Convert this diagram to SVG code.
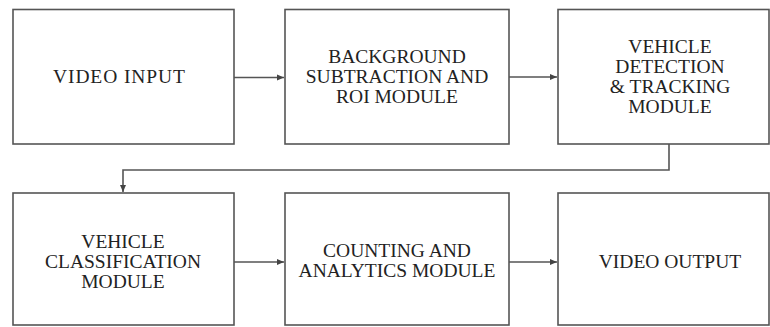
<svg xmlns="http://www.w3.org/2000/svg" width="770" height="327" viewBox="0 0 770 327">
<style>
.box{fill:#fff;stroke:#555;stroke-width:1.6}
.t{font-family:"Liberation Serif","Times New Roman",serif;font-size:19.5px;fill:#222;text-anchor:middle}
.c{fill:none;stroke:#555;stroke-width:1.6}
</style>
<defs>
<marker id="ah" markerWidth="8" markerHeight="8" refX="7" refY="4" orient="auto" markerUnits="userSpaceOnUse">
<path d="M0,1 L7,4 L0,7 Z" fill="#444"/>
</marker>
</defs>
<rect width="770" height="327" fill="#fff"/>
<g id="video-input"><rect class="box" x="13" y="9.5" width="221" height="134.5"/><text class="t" x="119" y="83" textLength="132" lengthAdjust="spacing">VIDEO INPUT</text></g>
<g id="background-subtraction"><rect class="box" x="285" y="9.5" width="224" height="134.5"/><text class="t" x="397" y="63">BACKGROUND</text><text class="t" x="397" y="83">SUBTRACTION AND</text><text class="t" x="397" y="103">ROI MODULE</text></g>
<g id="vehicle-detection"><rect class="box" x="558" y="9.5" width="211" height="134.5"/><text class="t" x="670" y="53">VEHICLE</text><text class="t" x="670" y="73">DETECTION</text><text class="t" x="670" y="93">&amp; TRACKING</text><text class="t" x="670" y="113">MODULE</text></g>
<g id="vehicle-classification"><rect class="box" x="13" y="193" width="221" height="132"/><text class="t" x="123" y="248">VEHICLE</text><text class="t" x="123" y="268">CLASSIFICATION</text><text class="t" x="123" y="288">MODULE</text></g>
<g id="counting-analytics"><rect class="box" x="285" y="193" width="224" height="132"/><text class="t" x="397" y="257">COUNTING AND</text><text class="t" x="397" y="277">ANALYTICS MODULE</text></g>
<g id="video-output"><rect class="box" x="558" y="193" width="211" height="132"/><text class="t" x="670" y="268">VIDEO OUTPUT</text></g>
<g id="connectors">
<line class="c" x1="234" y1="77.5" x2="284" y2="77.5" marker-end="url(#ah)"/>
<line class="c" x1="509" y1="77" x2="557" y2="77" marker-end="url(#ah)"/>
<polyline class="c" points="669,144 669,170 123,170 123,192" marker-end="url(#ah)"/>
<line class="c" x1="234" y1="262" x2="284" y2="262" marker-end="url(#ah)"/>
<line class="c" x1="509" y1="262" x2="557" y2="262" marker-end="url(#ah)"/>
</g>
</svg>
